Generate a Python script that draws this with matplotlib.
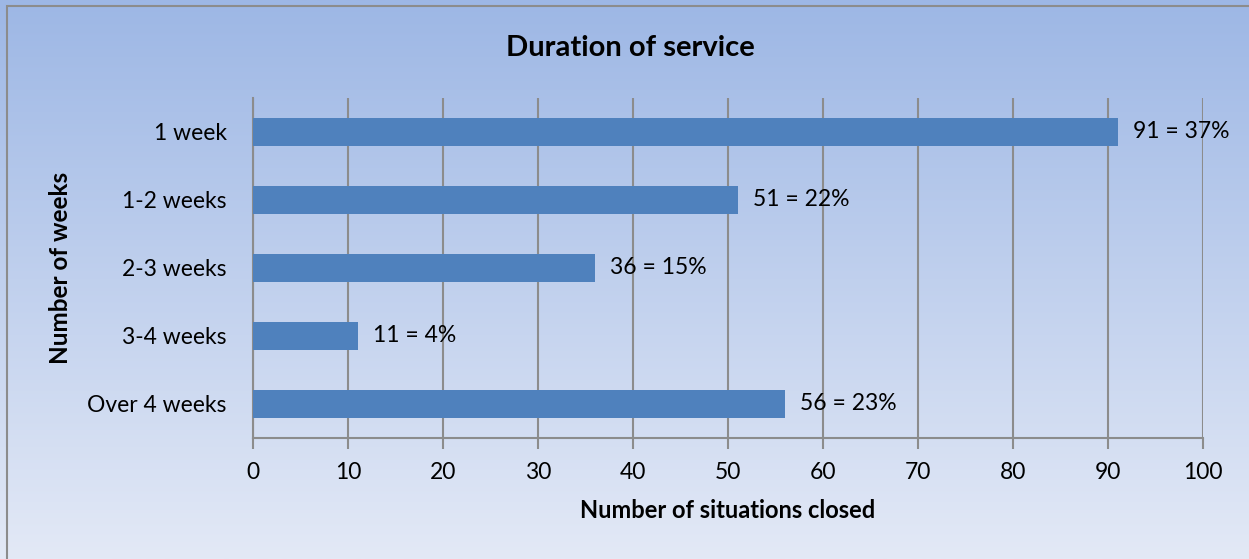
import numpy as np
import matplotlib.pyplot as plt
from matplotlib.patches import Rectangle

categories = ['1 week', '1-2 weeks', '2-3 weeks', '3-4 weeks', 'Over 4 weeks']
counts = [91, 51, 36, 11, 56]
percents = [37, 22, 15, 4, 23]

plt.rcParams['font.family'] = ['Lato', 'DejaVu Sans']

W, H = 1249, 559
fig = plt.figure(figsize=(W / 100, H / 100), dpi=100)

# background gradient, blue at the top fading to pale at the bottom
bg = fig.add_axes([0, 0, 1, 1], zorder=-10)
top = np.array([157, 183, 229]) / 255
bottom = np.array([227, 233, 246]) / 255
t = np.linspace(0, 1, 256)[:, None]
grad = (top[None, :] * (1 - t) + bottom[None, :] * t)[:, None, :]
bg.imshow(grad, aspect='auto', extent=[0, 1, 0, 1], origin='upper')
bg.add_patch(Rectangle((7 / W, -0.1), 1.2, 1 - 6 / H + 0.1, fill=False,
                       edgecolor='#8c8c8c', linewidth=1.5, transform=bg.transAxes))
bg.set_xlim(0, 1)
bg.set_ylim(0, 1)
bg.axis('off')

ax = fig.add_axes([253 / W, 1 - 438 / H, 950 / W, 340 / H])
ax.patch.set_alpha(0)

y = np.arange(len(categories))
ax.barh(y, counts, height=0.41, color='#4f81bd', zorder=3)
for yi, c, p in zip(y, counts, percents):
    ax.text(c + 1.6, yi, f'{c} = {p}%', va='center', ha='left', fontsize=16.5, zorder=4)

ax.set_xlim(0, 100)
ax.set_ylim(len(categories) - 0.5, -0.5)
ax.set_xticks(np.arange(0, 101, 10))
ax.set_yticks(y)
ax.set_yticklabels(categories)
ax.tick_params(axis='x', length=8, width=1.5, color='#8c8c8c', labelsize=16.5, pad=9)
ax.tick_params(axis='y', length=0, labelsize=16.5, pad=19)
ax.grid(axis='x', color='#8c8c8c', linewidth=1.5, zorder=0)
for s in ['top', 'right']:
    ax.spines[s].set_visible(False)
for s in ['left', 'bottom']:
    ax.spines[s].set_color('#8c8c8c')
    ax.spines[s].set_linewidth(1.5)

ax.set_xlabel('Number of situations closed', fontsize=17, fontweight='bold', labelpad=12)
fig.text(61 / W, 1 - 268 / H, 'Number of weeks', rotation=90, fontsize=17.5,
         fontweight='bold', ha='center', va='center')
fig.text(630 / W, 1 - 48 / H, 'Duration of service', fontsize=21, fontweight='bold',
         ha='center', va='center')

fig.savefig('out.png', dpi=100)
